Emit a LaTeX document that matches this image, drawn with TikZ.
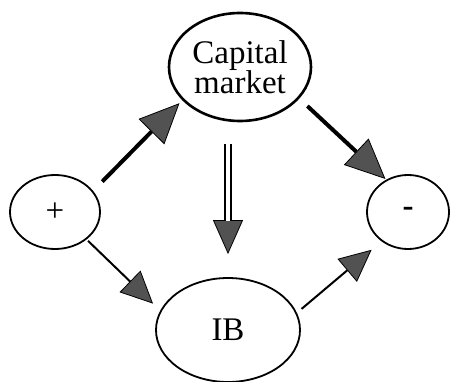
\documentclass[tikz,border=0pt]{standalone}
\usepackage{fontspec}
\setmainfont{Liberation Serif}
\usetikzlibrary{shapes.geometric,arrows.meta,calc}
\begin{document}
\begin{tikzpicture}[x=1pt,y=-1pt,
  oval/.style={ellipse,draw=black,line width=1.8pt,inner sep=0pt,align=center,
    font=\fontsize{33}{30}\selectfont},
  bigtip/.style={-{Triangle[length=40pt,width=36pt,line width=0.8pt,fill=black!68]}},
  smalltip/.style={-{Triangle[length=32pt,width=30pt,line width=0.8pt,fill=black!68]}},
  thickarrow/.style={bigtip,line width=4pt},
  thinarrow/.style={smalltip,line width=2pt},
  dbl/.style={double,double distance=3.4pt,line width=2pt}
]
\useasboundingbox (0,0) rectangle (452,382);
\node[oval,line width=2.6pt,minimum width=142pt,minimum height=108pt] (cm) at (240,67) {Capital\\market};
\node[oval,minimum width=90pt,minimum height=74pt] (p) at (55,212) {+};
\node[oval,minimum width=82pt,minimum height=74pt] (m) at (408,212) {\textbf{-}};
\node[oval,minimum width=144pt,minimum height=104pt] (ib) at (228,330) {IB};
% connectors
\draw[thickarrow,shorten <=13pt,shorten >=4pt] (p.29) -- (cm.210);
\draw[thickarrow,shorten <=11pt,shorten >=1pt] (cm.332) -- (m.124);
\draw[thinarrow,shorten <=2pt,shorten >=10pt] (p.-41) -- (ib.164);
\draw[thinarrow,shorten <=6pt,shorten >=13pt] (ib.14) -- (m.228);
% double arrow
\draw[-{Triangle[length=34pt,width=30pt,line width=0.8pt,fill=black!68]},line width=0.4pt,shorten <=22pt,shorten >=23pt] (ib.north |- cm.south) -- (ib.north);
\draw[dbl,shorten <=22pt,shorten >=56pt] (ib.north |- cm.south) -- (ib.north);
\end{tikzpicture}
\end{document}
